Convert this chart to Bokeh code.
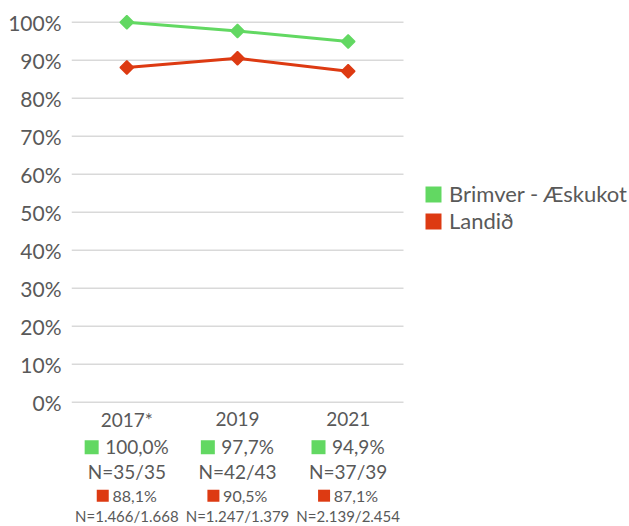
import math
from bokeh.plotting import figure
from bokeh.models import Range1d, FixedTicker, Legend, LegendItem
from bokeh.core.properties import value
from bokeh.embed import file_html
from bokeh.resources import INLINE

# ---- data ----
years = ["2017*", "2019", "2021"]
local_pct = [100.0, 97.7, 94.9]
national_pct = [88.1, 90.5, 87.1]
local_n = ["35/35", "42/43", "37/39"]
national_n = ["1.466/1.668", "1.247/1.379", "2.139/2.454"]
series_names = ["Brimver - Æskukot", "Landið"]
y_ticks = [0, 10, 20, 30, 40, 50, 60, 70, 80, 90, 100]

GREEN = "#62d862"
RED = "#dd3a12"
GRAY = "#595959"
GRID = "#d9d9d9"
FONT = "Lato"
value_font = value(FONT)

# ---- layout constants (pixels) ----
W, H = 628, 525
LEFT, TOP = 71, 12
PLOT_W = 332                 # width of the category area
Y100 = 21.7                  # pixel row of 100 %
PPU = 3.8                    # pixels per percentage point
n = len(years)
PPX = PLOT_W / n
frame_w = W - LEFT
frame_h = H - TOP
y_top = 100 + (Y100 - TOP) / PPU
y_bot = y_top - frame_h / PPU
x_end = frame_w / PPX

xs = [i + 0.5 for i in range(n)]

p = figure(width=W, height=H, output_backend="svg", toolbar_location=None,
           x_range=Range1d(0, x_end), y_range=Range1d(y_bot, y_top),
           min_border_left=LEFT, min_border_right=0, min_border_top=TOP,
           min_border_bottom=0)
p.outline_line_color = None
p.xaxis.visible = False
p.xgrid.visible = False
p.ygrid.visible = False

# y axis
p.yaxis.ticker = FixedTicker(ticks=y_ticks)
p.yaxis.major_label_overrides = {t: f"{t}%" for t in y_ticks}
p.yaxis.axis_line_color = None
p.yaxis.major_tick_line_color = None
p.yaxis.minor_tick_line_color = None
p.yaxis.major_label_text_font = FONT
p.yaxis.major_label_text_font_size = "21px"
p.yaxis.major_label_text_color = GRAY
p.yaxis.major_label_standoff = 4

# horizontal grid lines over the category area only
p.segment(x0=[0] * len(y_ticks), x1=[n] * len(y_ticks), y0=y_ticks, y1=y_ticks,
          line_color=GRID, line_width=1.6)

# lines with diamond markers
p.line(xs, local_pct, line_color=GREEN, line_width=3)
p.scatter(xs, local_pct, marker="square", angle=math.pi / 4, size=9.5,
          fill_color=GREEN, line_color=GREEN, line_width=1.5)
p.line(xs, national_pct, line_color=RED, line_width=3)
p.scatter(xs, national_pct, marker="square", angle=math.pi / 4, size=9.5,
          fill_color=RED, line_color=RED, line_width=1.5)

# legend with square swatches (proxy renderers placed outside the view)
q1 = p.quad(left=[-2], right=[-1], top=[-200], bottom=[-201],
            fill_color=GREEN, line_color=None)
q2 = p.quad(left=[-2], right=[-1], top=[-200], bottom=[-201],
            fill_color=RED, line_color=None)
legend = Legend(items=[LegendItem(label=series_names[0], renderers=[q1]),
                       LegendItem(label=series_names[1], renderers=[q2])],
                location=(352, 291), glyph_width=20, glyph_height=20,
                label_height=20, spacing=0, label_standoff=6, padding=10, margin=0,
                border_line_color=None, background_fill_alpha=0,
                label_text_font=FONT, label_text_font_size="22px",
                label_text_color=GRAY, label_text_baseline="middle")
p.add_layout(legend, "center")

# ---- text rows below the axis ----
EM = {"0": .58, "1": .58, "2": .58, "3": .58, "4": .58, "5": .58, "6": .58,
      "7": .58, "8": .58, "9": .58, ",": .24, ".": .24, "%": .8, "N": .76,
      "=": .58, "/": .38}


def tw(s, size):
    return sum(EM.get(c, .58) for c in s) * size


def fmt(v):
    return f"{v:.1f}".replace(".", ",") + "%"


def text_row(texts, dy, size, align="center", xoff=None):
    xoff = xoff if xoff is not None else [0] * len(texts)
    p.text(x=xs, y=[0] * len(texts), text=texts, x_offset=xoff, y_offset=dy,
           text_font=value_font, text_font_size=f"{size}px", text_color=GRAY,
           text_align=align, text_baseline="middle")


def swatch_row(vals, color, dy, size, sq, gap):
    texts = [fmt(v) for v in vals]
    widths = [sq + gap + tw(t, size) for t in texts]
    text_row(texts, dy, size, align="left",
             xoff=[-w / 2 + sq + gap for w in widths])
    p.scatter(x=[x + (-w / 2 + sq / 2) / PPX for x, w in zip(xs, widths)],
              y=[-(dy + 0.5) / PPU] * len(vals), marker="square", size=sq,
              fill_color=color, line_color=None)


text_row(years, 17, 19)
swatch_row(local_pct, GREEN, 44.5, 19, 14, 6.5)
text_row(["N=" + s for s in local_n], 69, 19)
swatch_row(national_pct, RED, 93, 16, 12, 3.7)
text_row(["N=" + s for s in national_n], 114, 15)

open("out.html", "w").write(file_html(p, INLINE))
